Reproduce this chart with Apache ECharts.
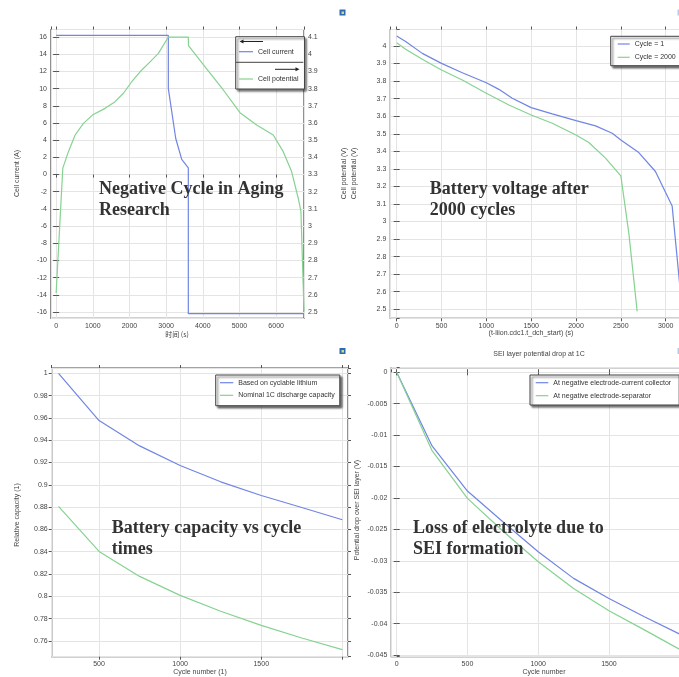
<!DOCTYPE html>
<html><head><meta charset="utf-8">
<script src="https://cdn.jsdelivr.net/npm/echarts@6/dist/echarts.min.js"></script>
<style>html,body{margin:0;padding:0;background:#fff}#c{width:679px;height:677px}</style>
</head><body><div id="c"></div>
<script>
// ---------- Panel 1: charge/discharge cycle ----------
const p1CurrentTime = [0, 3060, 3060, 3262, 3425, 3605, 3605, 6760];
const p1Current     = [16.2, 16.2, 10.0, 4.2, 1.76, 0.79, -16.2, -16.2];
const p1PotentialTime = [0, 182, 335, 518, 745, 990, 1335, 1608, 1835, 2062, 2289, 2561, 2789, 3060, 3605, 3610, 4014, 4559, 5014, 5469, 5921, 6194, 6422, 6603, 6676, 6760];
const p1Potential     = [2.61, 3.337, 3.433, 3.53, 3.598, 3.646, 3.685, 3.724, 3.773, 3.84, 3.898, 3.956, 4.005, 4.1, 4.1, 4.05, 3.94, 3.792, 3.66, 3.588, 3.53, 3.433, 3.317, 3.162, 3.085, 2.503];

// ---------- Panel 2: discharge voltage ----------
const p2Cycle1Time = [0, 100, 286, 500, 732, 1000, 1140, 1289, 1500, 1735, 2000, 2218, 2404, 2500, 2700, 2886, 3072, 3146, 3183];
const p2Cycle1V    = [4.057, 4.025, 3.958, 3.901, 3.848, 3.791, 3.753, 3.702, 3.649, 3.613, 3.575, 3.545, 3.503, 3.465, 3.393, 3.285, 3.089, 2.696, 2.5];
const p2Cycle2000Time = [0, 100, 286, 500, 732, 1000, 1252, 1500, 1735, 2000, 2143, 2329, 2500, 2589, 2682];
const p2Cycle2000V    = [4.019, 3.981, 3.924, 3.863, 3.806, 3.731, 3.664, 3.607, 3.56, 3.493, 3.45, 3.361, 3.26, 2.934, 2.488];

// ---------- Panel 3: relative capacity ----------
const p3Cycles   = [250, 500, 750, 1000, 1250, 1500, 1750, 2000];
const p3Lithium  = [1.0, 0.9576, 0.9349, 0.9173, 0.9027, 0.8904, 0.8797, 0.8687];
const p3Nominal  = [0.8806, 0.8403, 0.8179, 0.8009, 0.7866, 0.774, 0.7627, 0.7522];

// ---------- Panel 4: SEI potential drop ----------
const p4Cycles    = [0, 250, 500, 750, 1000, 1250, 1500, 1750, 2000];
const p4Collector = [0, -0.01173, -0.0189, -0.02378, -0.02856, -0.0328, -0.036, -0.0389, -0.04167];
const p4Separator = [0, -0.01247, -0.02006, -0.02527, -0.03015, -0.0344, -0.03795, -0.041, -0.04411];

const BLUE = '#7085e4', GREEN = '#86d291';
const FONT = '"Liberation Sans", Arial, sans-serif';
const pairs = (xs, ys) => xs.map((x, i) => [x, ys[i]]);

function axis(type, o) {
  const a = {
    type: 'value', gridIndex: o.grid, position: o.pos,
    min: o.min, max: o.max, minInterval: o.step, maxInterval: o.step, splitNumber: 10,
    axisLine: { show: false },
    axisTick: { show: true, length: 3, lineStyle: { color: '#555', width: 1 } },
    axisLabel: {
      show: o.labels !== false, showMinLabel: false, showMaxLabel: false,
      fontSize: 7, color: '#444', fontFamily: FONT, margin: o.margin || 4,
      formatter: v => (o.hide && o.hide.includes(v)) ? '' : String(v)
    },
    splitLine: { show: !!o.split, lineStyle: { color: '#e4e4e4', width: 1 } }
  };
  return a;
}

const xAxes = [
  axis('x', { grid: 0, pos: 'bottom', min: -140, max: 6760, step: 1000, split: true }),
  axis('x', { grid: 0, pos: 'top', min: -140, max: 6760, step: 1000, labels: false }),
  axis('x', { grid: 1, pos: 'bottom', min: -71, max: 3250, step: 500, split: true }),
  axis('x', { grid: 1, pos: 'top', min: -71, max: 3250, step: 500, labels: false }),
  axis('x', { grid: 2, pos: 'bottom', min: 208, max: 2035, step: 500, split: true, hide: [2000] }),
  axis('x', { grid: 2, pos: 'top', min: 208, max: 2035, step: 500, labels: false }),
  axis('x', { grid: 3, pos: 'bottom', min: -38, max: 2040, step: 500, split: true, hide: [2000] }),
  axis('x', { grid: 3, pos: 'top', min: -38, max: 2040, step: 500, labels: false })
];
const yAxes = [
  axis('y', { grid: 0, pos: 'left', min: -16.733, max: 16.885, step: 2, split: true }),
  axis('y', { grid: 0, pos: 'right', min: 2.4633, max: 4.144, step: 0.1 }),
  axis('y', { grid: 1, pos: 'left', min: 2.4487, max: 4.094, step: 0.1, split: true }),
  axis('y', { grid: 1, pos: 'right', min: 2.4487, max: 4.094, step: 0.1, labels: false }),
  axis('y', { grid: 2, pos: 'left', min: 0.7459, max: 1.00475, step: 0.02, split: true }),
  axis('y', { grid: 2, pos: 'right', min: 0.7459, max: 1.00475, step: 0.02, labels: false }),
  axis('y', { grid: 3, pos: 'left', min: -0.04527, max: 0.00073, step: 0.005, split: true }),
  axis('y', { grid: 3, pos: 'right', min: -0.04527, max: 0.00073, step: 0.005, labels: false })
];

const gridStyle = { show: true, borderColor: '#4a4a4a', borderWidth: 1.2, backgroundColor: '#fff',
  containLabel: false, outerBoundsMode: 'none' };
const grids = [
  Object.assign({ left: 51, width: 253, top: 29.5, height: 288.8 }, gridStyle),
  Object.assign({ left: 390.3, width: 297.8, top: 29.5, height: 288.8 }, gridStyle),
  Object.assign({ left: 51.7, width: 296.3, top: 368, height: 288.7 }, gridStyle),
  Object.assign({ left: 391.3, width: 294.1, top: 367.7, height: 289 }, gridStyle)
];

function line(name, xi, yi, data, color) {
  return { type: 'line', name, xAxisIndex: xi, yAxisIndex: yi, data, showSymbol: false,
    symbol: 'none', lineStyle: { color, width: 1.2 }, itemStyle: { color }, animation: false, z: 3 };
}
const series = [
  line('Cell current', 0, 0, pairs(p1CurrentTime, p1Current), BLUE),
  line('Cell potential', 0, 1, pairs(p1PotentialTime, p1Potential), GREEN),
  line('Cycle = 1', 2, 2, pairs(p2Cycle1Time, p2Cycle1V), BLUE),
  line('Cycle = 2000', 2, 2, pairs(p2Cycle2000Time, p2Cycle2000V), GREEN),
  line('Based on cyclable lithium', 4, 4, pairs(p3Cycles, p3Lithium), BLUE),
  line('Nominal 1C discharge capacity', 4, 4, pairs(p3Cycles, p3Nominal), GREEN),
  line('At negative electrode-current collector', 6, 6, pairs(p4Cycles, p4Collector), BLUE),
  line('At negative electrode-separator', 6, 6, pairs(p4Cycles, p4Separator), GREEN)
];

function legend(names, left, top, padding, itemWidth, itemGap) {
  return {
    data: names, orient: 'vertical', left, top, padding, itemWidth, itemHeight: 1.2, itemGap,
    icon: 'rect', backgroundColor: '#fff', borderColor: '#444', borderWidth: 1,
    shadowColor: 'rgba(0,0,0,0.55)', shadowBlur: 2, shadowOffsetX: 2, shadowOffsetY: 2,
    textStyle: { fontSize: 7, lineHeight: 8, color: '#333', fontFamily: FONT },
    selectedMode: false, z: 10
  };
}
const legends = [
  legend(['Cell current', 'Cell potential'], 235.7, 36.7, [11, 6, 6, 3.3], 14, 19.3),
  legend(['Cycle = 1', 'Cycle = 2000'], 610.7, 36.3, [3.7, 8, 4.4, 7], 12, 5.3),
  legend(['Based on cyclable lithium', 'Nominal 1C discharge capacity'], 215.7, 375, [3.7, 5, 6.4, 4.3], 13.3, 4.6),
  legend(['At negative electrode-current collector', 'At negative electrode-separator'], 530, 375, [3.7, 8, 5.3, 5.7], 12.6, 5)
];

function txt(text, x, y, opts) {
  opts = opts || {};
  return { type: 'text', x, y, rotation: opts.rot || 0, z: 50, silent: true,
    style: { text, x: 0, y: 0, fill: opts.fill || '#444', font: opts.font || ('7px ' + FONT),
      align: opts.align || 'center', verticalAlign: opts.va || 'middle', lineHeight: opts.lh } };
}
const R = Math.PI / 2;
const BIG = 'bold 18px "Liberation Serif", "Times New Roman", serif';
const graphics = [
  // axis titles
  txt('Cell current (A)', 17.3, 173.5, { rot: R }),
  txt('时间 (s)', 177, 334.5, { font: '7px "Noto Sans CJK SC", ' + FONT }),
  txt('Cell potential (V)', 344.5, 173.5, { rot: R }),
  txt('Cell potential (V)', 354.5, 173.5, { rot: R }),
  txt('(t-liion.cdc1.t_dch_start) (s)', 531, 333),
  txt('Relative capacity (1)', 17.3, 515, { rot: R }),
  txt('Cycle number (1)', 200, 672.3),
  txt('SEI layer potential drop at 1C', 539, 354),
  txt('Potential drop over SEI layer (V)', 357.3, 510, { rot: R }),
  txt('Cycle number', 544, 672.3),
  // annotations
  txt('Negative Cycle in Aging\nResearch', 99, 178.4, { font: BIG, fill: '#333', align: 'left', va: 'top', lh: 21 }),
  txt('Battery voltage after\n2000 cycles', 429.7, 178.4, { font: BIG, fill: '#333', align: 'left', va: 'top', lh: 21 }),
  txt('Battery capacity vs cycle\ntimes', 111.7, 517.7, { font: BIG, fill: '#333', align: 'left', va: 'top', lh: 21 }),
  txt('Loss of electrolyte due to\nSEI formation', 413, 517.7, { font: BIG, fill: '#333', align: 'left', va: 'top', lh: 21 }),
  // panel 1 legend decorations (arrows + divider)
  { type: 'line', z: 60, shape: { x1: 235.7, y1: 62.3, x2: 303.3, y2: 62.3 }, style: { stroke: '#444', lineWidth: 1 } },
  { type: 'line', z: 60, shape: { x1: 242, y1: 41.5, x2: 263, y2: 41.5 }, style: { stroke: '#222', lineWidth: 1 } },
  { type: 'polygon', z: 60, shape: { points: [[239.5, 41.5], [243.5, 39.5], [243.5, 43.5]] }, style: { fill: '#222' } },
  { type: 'line', z: 60, shape: { x1: 275, y1: 69.3, x2: 297, y2: 69.3 }, style: { stroke: '#222', lineWidth: 1 } },
  { type: 'polygon', z: 60, shape: { points: [[299.5, 69.3], [295.5, 67.3], [295.5, 71.3]] }, style: { fill: '#222' } },
  // small window icons
  { type: 'rect', z: 60, shape: { x: 339.5, y: 9.5, width: 6, height: 6 }, style: { fill: '#2f6bb3' } },
  { type: 'rect', z: 61, shape: { x: 341.5, y: 11.5, width: 2.5, height: 2.5 }, style: { fill: '#c9dc86' } },
  { type: 'rect', z: 60, shape: { x: 339.5, y: 348, width: 6, height: 6 }, style: { fill: '#2f6bb3' } },
  { type: 'rect', z: 61, shape: { x: 341.5, y: 350, width: 2.5, height: 2.5 }, style: { fill: '#c9dc86' } },
  { type: 'rect', z: 60, shape: { x: 677.5, y: 9.5, width: 6, height: 6 }, style: { fill: '#b9cbe4' } },
  { type: 'rect', z: 60, shape: { x: 677.5, y: 348, width: 6, height: 6 }, style: { fill: '#b9cbe4' } }
];

const chart = echarts.init(document.getElementById('c'), null, { renderer: 'canvas', width: 679, height: 677 });
chart.setOption({
  animation: false,
  backgroundColor: '#fff',
  grid: grids, xAxis: xAxes, yAxis: yAxes,
  legend: legends, series, graphic: graphics
});
</script></body></html>
